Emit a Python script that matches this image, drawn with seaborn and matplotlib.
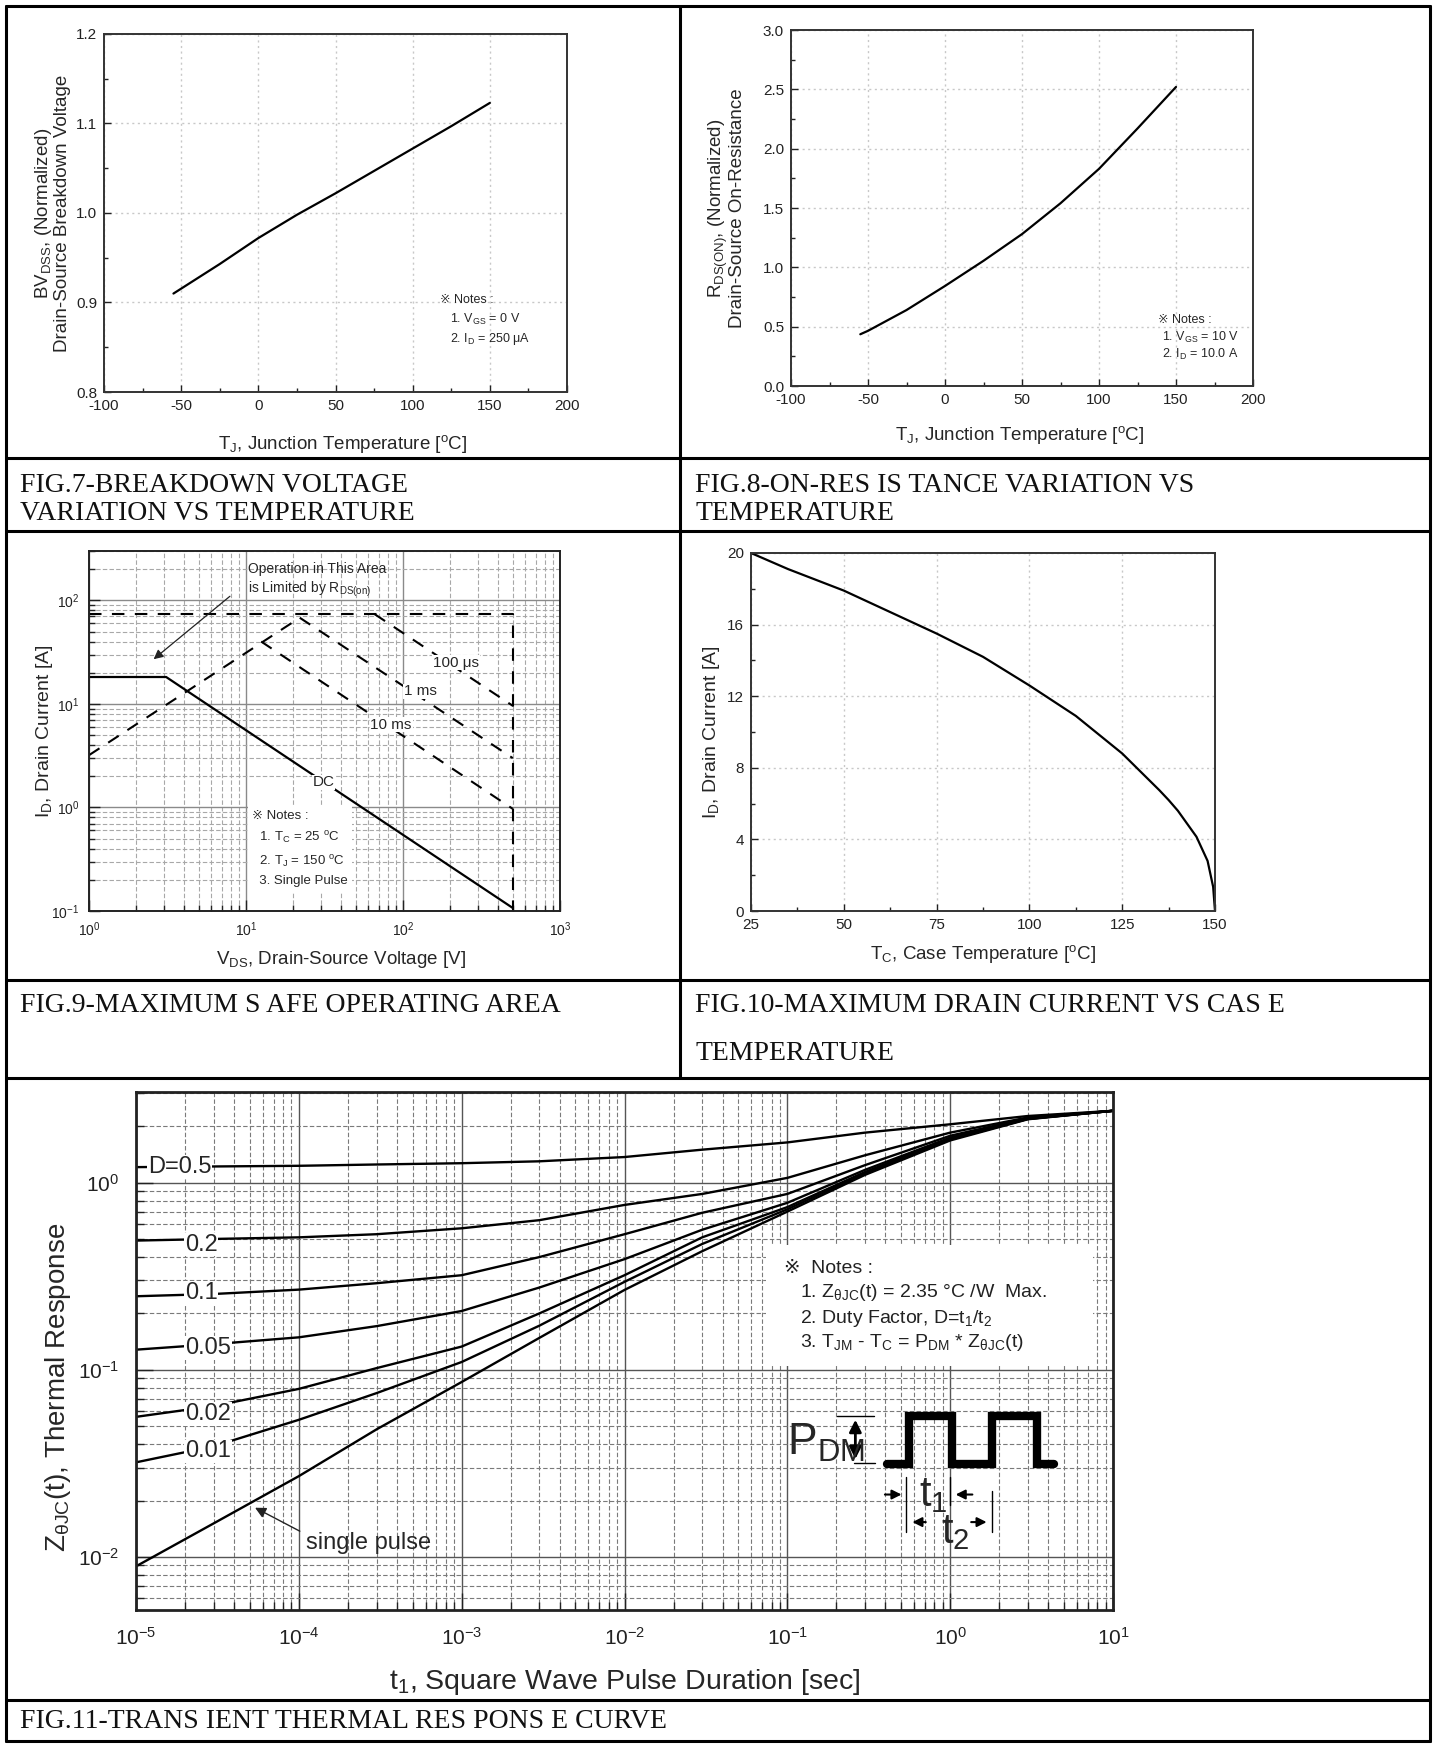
import numpy as np
import pandas as pd
import matplotlib
matplotlib.use("Agg")
import matplotlib.pyplot as plt
import seaborn as sns
from matplotlib import font_manager
from matplotlib.lines import Line2D
from matplotlib.patches import Rectangle
from matplotlib.ticker import (MultipleLocator, LogLocator, NullFormatter,
                               LogFormatterMathtext, FormatStrFormatter)

# ------------------------- DATA ------------------------- #
# FIG.7 breakdown voltage vs Tj
bv_temp = [-55, -25, 0, 25, 50, 75, 100, 125, 150]
bv_norm = [0.910, 0.943, 0.972, 0.998, 1.022, 1.047, 1.072, 1.097, 1.123]

# FIG.8 on-resistance vs Tj
rds_temp = [-55, -50, -25, 0, 25, 50, 75, 100, 125, 150]
rds_norm = [0.436, 0.465, 0.64, 0.843, 1.055, 1.28, 1.54, 1.83, 2.17, 2.52]

# FIG.9 safe operating area
dc_vds = [1, 3.1, 500]
dc_id = [18.2, 18.2, 0.107]
rlim_vds = [1, 22]
rlim_id = [3.2, 68]
box_vds = [1, 500, 500]
box_id = [73.6, 73.6, 0.1]
us100_vds = [66, 500]
us100_id = [73.6, 9.6]
ms1_vds = [22, 500]
ms1_id = [68, 3.0]
ms10_vds = [12.5, 500]
ms10_id = [40, 0.97]

# FIG.10 max drain current vs Tc
case_temp = [25, 35, 50, 62.5, 75, 87.5, 100, 112.5, 125, 135, 137.5, 140, 145, 148, 149.5, 150]
id_max = [20.0, 19.1, 17.9, 16.7, 15.5, 14.2, 12.6, 10.9, 8.8, 6.75, 6.2, 5.6, 4.15, 2.8, 1.35, 0.0]

# FIG.11 transient thermal response
pulse_t = [1e-5, 3e-5, 1e-4, 3e-4, 1e-3, 3e-3, 1e-2, 3e-2, 1e-1, 3e-1, 1, 3, 10]
duty_labels = ["D=0.5", "0.2", "0.1", "0.05", "0.02", "0.01"]
z_d50 = [1.21, 1.22, 1.23, 1.25, 1.27, 1.30, 1.37, 1.50, 1.64, 1.85, 2.05, 2.27, 2.42]
z_d20 = [0.49, 0.50, 0.51, 0.53, 0.57, 0.63, 0.76, 0.87, 1.06, 1.40, 1.85, 2.23, 2.42]
z_d10 = [0.247, 0.254, 0.268, 0.29, 0.32, 0.40, 0.53, 0.69, 0.87, 1.24, 1.78, 2.21, 2.42]
z_d05 = [0.128, 0.137, 0.149, 0.171, 0.206, 0.275, 0.39, 0.56, 0.78, 1.17, 1.74, 2.20, 2.42]
z_d02 = [0.056, 0.064, 0.079, 0.102, 0.133, 0.20, 0.32, 0.51, 0.74, 1.14, 1.72, 2.19, 2.42]
z_d01 = [0.032, 0.039, 0.054, 0.075, 0.11, 0.172, 0.295, 0.47, 0.72, 1.12, 1.70, 2.19, 2.42]
z_single = [0.0089, 0.0151, 0.027, 0.048, 0.086, 0.148, 0.267, 0.43, 0.70, 1.10, 1.68, 2.18, 2.42]
duty_label_y = [1.21, 0.466, 0.257, 0.131, 0.058, 0.0366]

# ------------------------- STYLE ------------------------- #
sns.set_theme(style="white")
names = {f.name for f in font_manager.fontManager.ttflist}
NARROW = "Liberation Sans Narrow" if "Liberation Sans Narrow" in names else "Liberation Sans"
SANS = ["Liberation Sans", "DejaVu Sans"]
SERIF = "Liberation Serif"
plt.rcParams["font.family"] = [NARROW, "DejaVu Sans"]
plt.rcParams["axes.unicode_minus"] = False
plt.rcParams["mathtext.fontset"] = "custom"
plt.rcParams["mathtext.rm"] = "Liberation Sans"
plt.rcParams["mathtext.it"] = "Liberation Sans:italic"
plt.rcParams["mathtext.default"] = "regular"

W, H = 1435, 1746
fig = plt.figure(figsize=(W / 100, H / 100), dpi=100)
fig.patch.set_facecolor("white")


def px_axes(l, t, r, b):
    return fig.add_axes([l / W, 1 - b / H, (r - l) / W, (b - t) / H])


def frame_line(x0, y0, x1, y1):
    fig.add_artist(Line2D([x0 / W, x1 / W], [1 - y0 / H, 1 - y1 / H],
                          transform=fig.transFigure, color="black", lw=2.2))


def style_linear(ax, size=11):
    ax.tick_params(which="both", direction="in", bottom=True, left=True,
                   top=False, right=False, labelsize=size, colors="#222", pad=5)
    ax.tick_params(which="major", length=5, width=1)
    ax.tick_params(which="minor", length=3, width=1)
    ax.grid(which="major", linestyle=(0, (1.5, 2.5)), color="#c8c8c8", lw=1)
    for s in ax.spines.values():
        s.set_color("#333")
        s.set_linewidth(1.4)
    ax.set_xlabel("")
    ax.set_ylabel("")


def style_log(ax, size=10, family=None, major="#8a8a8a", minor="#a8a8a8", spine_lw=1.4):
    ax.xaxis.set_major_locator(LogLocator(base=10, numticks=20))
    ax.yaxis.set_major_locator(LogLocator(base=10, numticks=20))
    ax.xaxis.set_minor_locator(LogLocator(base=10, subs=np.arange(2, 10), numticks=20))
    ax.yaxis.set_minor_locator(LogLocator(base=10, subs=np.arange(2, 10), numticks=20))
    ax.xaxis.set_major_formatter(LogFormatterMathtext())
    ax.yaxis.set_major_formatter(LogFormatterMathtext())
    ax.xaxis.set_minor_formatter(NullFormatter())
    ax.yaxis.set_minor_formatter(NullFormatter())
    ax.tick_params(which="both", direction="in", bottom=True, left=True,
                   top=False, right=False, labelsize=size, colors="#222", pad=7)
    ax.tick_params(which="major", length=8, width=1)
    ax.tick_params(which="minor", length=4, width=1)
    ax.grid(which="major", linestyle="-", color=major, lw=1)
    ax.grid(which="minor", linestyle=(0, (4, 2)), color=minor, lw=0.8)
    for s in ax.spines.values():
        s.set_color("#222")
        s.set_linewidth(spine_lw)
    if family is not None:
        for lab in ax.get_xticklabels() + ax.get_yticklabels():
            lab.set_family(family)
    ax.set_xlabel("")
    ax.set_ylabel("")


# ------------------------- TABLE FRAME ------------------------- #
frame_line(6, 6, 1430, 6)
frame_line(6, 1741, 1430, 1741)
frame_line(6, 6, 6, 1741)
frame_line(1430, 6, 1430, 1741)
frame_line(680, 6, 680, 1078)
for yy in [458, 531, 980, 1078, 1700]:
    frame_line(6, yy, 1430, yy)

cap_kw = dict(family=SERIF, fontsize=20, va="center", ha="left", color="#111")
fig.text(20 / W, 1 - 485 / H, "FIG.7-BREAKDOWN VOLTAGE", **cap_kw)
fig.text(20 / W, 1 - 514 / H, "VARIATION VS TEMPERATURE", **cap_kw)
fig.text(695 / W, 1 - 485 / H, "FIG.8-ON-RES IS TANCE VARIATION VS", **cap_kw)
fig.text(695 / W, 1 - 514 / H, "TEMPERATURE", **cap_kw)
fig.text(20 / W, 1 - 1006 / H, "FIG.9-MAXIMUM S AFE OPERATING AREA", **cap_kw)
fig.text(695 / W, 1 - 1006 / H, "FIG.10-MAXIMUM DRAIN CURRENT VS CAS E", **cap_kw)
fig.text(695 / W, 1 - 1053 / H, "TEMPERATURE", **cap_kw)
fig.text(20 / W, 1 - 1721 / H, "FIG.11-TRANS IENT THERMAL RES PONS E CURVE", **cap_kw)

# ------------------------- FIG.7 ------------------------- #
ax7 = px_axes(104, 34, 567, 392)
df7 = pd.DataFrame({"T": bv_temp, "BV": bv_norm})
sns.lineplot(data=df7, x="T", y="BV", ax=ax7, color="black", lw=1.6, estimator=None)
ax7.set_xlim(-100, 200)
ax7.set_ylim(0.8, 1.2)
ax7.xaxis.set_major_locator(MultipleLocator(50))
ax7.xaxis.set_minor_locator(MultipleLocator(25))
ax7.yaxis.set_major_locator(MultipleLocator(0.1))
ax7.yaxis.set_minor_locator(MultipleLocator(0.05))
ax7.yaxis.set_major_formatter(FormatStrFormatter("%.1f"))
style_linear(ax7)
ax7.text(-0.112, 0.5, "BV$_{DSS}$, (Normalized)\nDrain-Source Breakdown Voltage",
         transform=ax7.transAxes, rotation=90, ha="center", va="center",
         family=SANS, fontsize=13.5, linespacing=0.95)
ax7.text(0.515, -0.145, "T$_J$, Junction Temperature [$^o$C]", transform=ax7.transAxes,
         ha="center", va="center", fontsize=13.5)
ax7.text(118, 0.903, "※ Notes :", fontsize=9, va="center")
ax7.text(124, 0.881, "1. V$_{GS}$ = 0 V", fontsize=9, va="center")
ax7.text(124, 0.859, "2. I$_D$ = 250 μA", fontsize=9, va="center")

# ------------------------- FIG.8 ------------------------- #
ax8 = px_axes(791, 30, 1253, 386)
df8 = pd.DataFrame({"T": rds_temp, "R": rds_norm})
sns.lineplot(data=df8, x="T", y="R", ax=ax8, color="black", lw=1.6, estimator=None)
ax8.set_xlim(-100, 200)
ax8.set_ylim(0, 3.0)
ax8.xaxis.set_major_locator(MultipleLocator(50))
ax8.xaxis.set_minor_locator(MultipleLocator(25))
ax8.yaxis.set_major_locator(MultipleLocator(0.5))
ax8.yaxis.set_minor_locator(MultipleLocator(0.25))
ax8.yaxis.set_major_formatter(FormatStrFormatter("%.1f"))
style_linear(ax8)
ax8.text(-0.14, 0.5, "R$_{DS(ON)}$, (Normalized)\nDrain-Source On-Resistance",
         transform=ax8.transAxes, rotation=90, ha="center", va="center",
         family=SANS, fontsize=13.5, linespacing=0.95)
ax8.text(0.494, -0.138, "T$_J$, Junction Temperature [$^o$C]", transform=ax8.transAxes,
         ha="center", va="center", fontsize=13.5)
ax8.text(138, 0.556, "※ Notes :", fontsize=9, va="center")
ax8.text(141, 0.41, "1. V$_{GS}$ = 10 V", fontsize=9, va="center")
ax8.text(141, 0.264, "2. I$_D$ = 10.0 A", fontsize=9, va="center")

# ------------------------- FIG.9 ------------------------- #
ax9 = px_axes(89, 551, 560, 911)
ax9.set_xscale("log")
ax9.set_yscale("log")
sns.lineplot(x=dc_vds, y=dc_id, ax=ax9, color="black", lw=1.6, estimator=None, sort=False)
for vv, ii in [(box_vds, box_id), (rlim_vds, rlim_id), (us100_vds, us100_id),
               (ms1_vds, ms1_id), (ms10_vds, ms10_id)]:
    sns.lineplot(x=vv, y=ii, ax=ax9, color="black", lw=1.5, estimator=None, sort=False,
                 linestyle=(0, (6, 5)))
ax9.set_xlim(1, 1000)
ax9.set_ylim(0.1, 300)
style_log(ax9, size=10)
lab_kw = dict(fontsize=11, va="center", ha="left",
              bbox=dict(facecolor="white", edgecolor="none", pad=0.6))
ax9.text(155, 25, "100 μs", **lab_kw)
ax9.text(101, 13.2, "1 ms", **lab_kw)
ax9.text(62, 6.3, "10 ms", **lab_kw)
ax9.text(26.5, 1.75, "DC", **lab_kw)
ax9.text(10.3, 157, "Operation in This Area\nis Limited by R$_{DS(on)}$", fontsize=10,
         va="center", ha="left", linespacing=1.3)
ax9.annotate("", xy=(2.5, 26), xytext=(8.15, 114),
             arrowprops=dict(arrowstyle="-|>", color="#222", lw=0.9, mutation_scale=14))
ax9.text(10.9, 0.40,
         "※ Notes :\n  1. T$_C$ = 25 $^o$C\n  2. T$_J$ = 150 $^o$C\n  3. Single Pulse",
         fontsize=9.5, va="center", ha="left", linespacing=1.65,
         bbox=dict(facecolor="white", edgecolor="none", pad=3))
ax9.text(-0.095, 0.5, "I$_D$, Drain Current [A]", transform=ax9.transAxes, rotation=90,
         ha="center", va="center", family=SANS, fontsize=14)
ax9.text(0.535, -0.136, "V$_{DS}$, Drain-Source Voltage [V]", transform=ax9.transAxes,
         ha="center", va="center", fontsize=13.5)

# ------------------------- FIG.10 ------------------------- #
ax10 = px_axes(751, 553, 1215, 911)
df10 = pd.DataFrame({"Tc": case_temp, "Id": id_max})
sns.lineplot(data=df10, x="Tc", y="Id", ax=ax10, color="black", lw=1.6, estimator=None)
ax10.set_xlim(25, 150)
ax10.set_ylim(0, 20)
ax10.xaxis.set_major_locator(MultipleLocator(25))
ax10.xaxis.set_minor_locator(MultipleLocator(12.5))
ax10.yaxis.set_major_locator(MultipleLocator(4))
ax10.yaxis.set_minor_locator(MultipleLocator(2))
style_linear(ax10)
ax10.text(-0.085, 0.5, "I$_D$, Drain Current [A]", transform=ax10.transAxes, rotation=90,
          ha="center", va="center", family=SANS, fontsize=14)
ax10.text(0.5, -0.12, "T$_C$, Case Temperature [$^o$C]", transform=ax10.transAxes,
          ha="center", va="center", fontsize=13.5)

# ------------------------- FIG.11 ------------------------- #
ax11 = px_axes(136, 1092, 1113, 1610)
ax11.set_xscale("log")
ax11.set_yscale("log")
df11 = pd.DataFrame({"t": pulse_t, "D=0.5": z_d50, "0.2": z_d20, "0.1": z_d10,
                     "0.05": z_d05, "0.02": z_d02, "0.01": z_d01, "single": z_single})
long11 = df11.melt(id_vars="t", var_name="curve", value_name="z")
sns.lineplot(data=long11, x="t", y="z", units="curve", estimator=None, color="black",
             lw=1.7, ax=ax11, legend=False)
ax11.set_xlim(1e-5, 10)
ax11.set_ylim(0.0052, 3.05)
style_log(ax11, size=15, family="Liberation Sans", major="#555555", minor="#7a7a7a",
          spine_lw=2)
ax11.tick_params(which="major", length=12, pad=12)
ax11.tick_params(which="minor", length=6)

for i, (lab, yv) in enumerate(zip(duty_labels, duty_label_y)):
    xv = 1.18e-5 if i == 0 else 2.0e-5
    ax11.text(xv, yv, lab, fontsize=17, family=SANS, va="center", ha="left",
              bbox=dict(facecolor="white", edgecolor="none", pad=0.5))
ax11.text(1.1e-4, 0.0119, "single pulse", fontsize=17, family=SANS, va="center", ha="left")
ax11.annotate("", xy=(5.2e-5, 0.0186), xytext=(1.05e-4, 0.0135),
              arrowprops=dict(arrowstyle="-|>", color="#222", lw=1, mutation_scale=16))

ax11.add_patch(Rectangle((0.645, 0.472), 0.335, 0.233, transform=ax11.transAxes,
                         facecolor="white", edgecolor="none", zorder=3))
note_kw = dict(transform=ax11.transAxes, fontsize=14, family=SANS, va="center",
               ha="left", color="#222", zorder=4)
ax11.text(0.663, 0.659, "※  Notes :", **note_kw)
ax11.text(0.680, 0.612, "1. Z$_{\\theta JC}$(t) = 2.35 °C /W  Max.", **note_kw)
ax11.text(0.680, 0.562, "2. Duty Factor, D=t$_1$/t$_2$", **note_kw)
ax11.text(0.680, 0.516, "3. T$_{JM}$ - T$_C$ = P$_{DM}$ * Z$_{\\theta JC}$(t)", **note_kw)

# pulse sketch (axes-fraction decoration)
tr = ax11.transAxes
ax11.plot([0.7687, 0.7915, 0.7915, 0.8357, 0.8357, 0.8765, 0.8765, 0.9218, 0.9218, 0.940],
          [0.2828, 0.2828, 0.3746, 0.3746, 0.2828, 0.2828, 0.3746, 0.3746, 0.2828, 0.2828],
          transform=tr, color="black", lw=6, solid_joinstyle="miter", zorder=5)
ax11.plot([0.7177, 0.7552], [0.3739, 0.3739], transform=tr, color="black", lw=1, zorder=5)
ax11.plot([0.7347, 0.7568], [0.2841, 0.2841], transform=tr, color="black", lw=1, zorder=5)
ax11.annotate("", xy=(0.7363, 0.3726), xytext=(0.7363, 0.2861), xycoords=tr, textcoords=tr,
              arrowprops=dict(arrowstyle="<|-|>", color="black", lw=2, mutation_scale=18),
              zorder=5)
ax11.text(0.6667, 0.3227, "P$_{DM}$", transform=tr, fontsize=32, family=SANS,
          va="center", ha="left", zorder=6)
ax11.plot([0.7885, 0.7885], [0.2562, 0.1497], transform=tr, color="black", lw=1, zorder=5)
ax11.plot([0.8333, 0.8333], [0.2562, 0.2029], transform=tr, color="black", lw=1, zorder=5)
ax11.plot([0.8759, 0.8759], [0.2295, 0.1497], transform=tr, color="black", lw=1, zorder=5)
arr = dict(arrowstyle="-|>", color="black", lw=1.5, mutation_scale=14)
ax11.annotate("", xy=(0.7864, 0.2229), xytext=(0.7637, 0.2229), xycoords=tr, textcoords=tr,
              arrowprops=arr)
ax11.annotate("", xy=(0.8361, 0.2229), xytext=(0.8589, 0.2229), xycoords=tr, textcoords=tr,
              arrowprops=arr)
ax11.annotate("", xy=(0.7918, 0.1697), xytext=(0.8112, 0.1697), xycoords=tr, textcoords=tr,
              arrowprops=arr)
ax11.annotate("", xy=(0.8735, 0.1697), xytext=(0.8520, 0.1697), xycoords=tr, textcoords=tr,
              arrowprops=arr)
ax11.text(0.8164, 0.222, "t$_1$", transform=tr, fontsize=30, family=SANS,
          va="center", ha="center", zorder=6)
ax11.text(0.8384, 0.150, "t$_2$", transform=tr, fontsize=30, family=SANS,
          va="center", ha="center", zorder=6)

ax11.set_ylabel("Z$_{\\theta JC}$(t), Thermal Response", family=SANS, fontsize=20)
ax11.yaxis.set_label_coords(-0.064, 0.43)
ax11.text(0.50, -0.139, "t$_1$, Square Wave Pulse Duration [sec]", transform=ax11.transAxes,
          ha="center", va="center", family=SANS, fontsize=20.5)

fig.savefig("out.png", dpi=100, facecolor="white")
